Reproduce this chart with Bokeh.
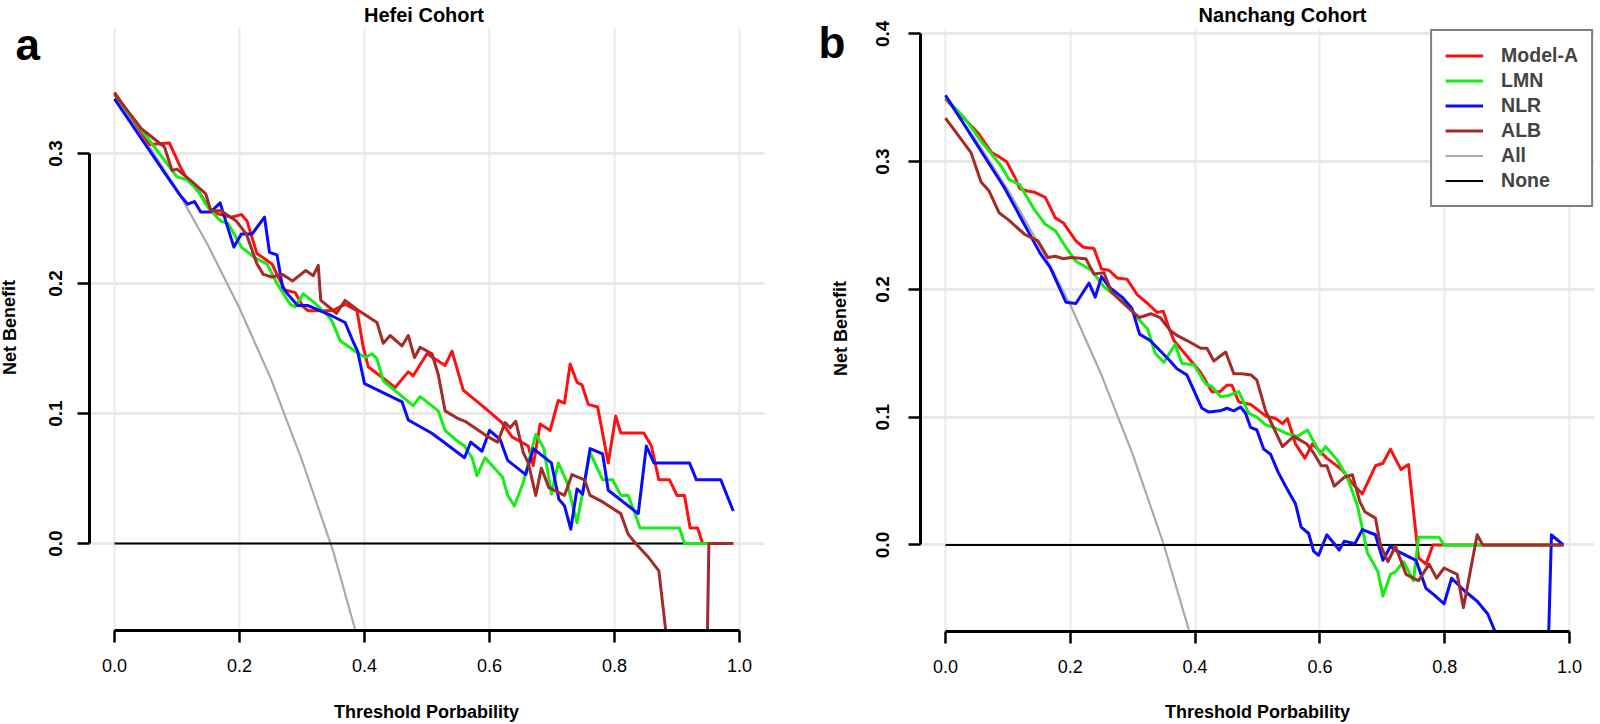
from bokeh.plotting import figure
from bokeh.models import (FixedTicker, PrintfTickFormatter, Label, Legend, LegendItem, Range1d, GridBox)
from bokeh.embed import file_html
from bokeh.resources import INLINE

FONT = "Liberation Sans"

# ---------------- data ----------------
x_ticks = [0.0, 0.2, 0.4, 0.6, 0.8, 1.0]
series_names = ["Model-A", "LMN", "NLR", "ALB", "All", "None"]

# Hefei cohort (threshold, net benefit)
hefei_model_a = [(0, .347), (.056, .307), (.088, .308), (.105, .29), (.113, .283), (.137, .269), (.15, .259),
                 (.162, .254), (.187, .251), (.203, .253), (.212, .248), (.228, .223), (.24, .219), (.252, .215),
                 (.265, .202), (.273, .195), (.289, .193), (.302, .182), (.31, .179), (.348, .179), (.369, .184),
                 (.388, .179), (.398, .151), (.406, .136), (.449, .12), (.47, .132), (.478, .129), (.5, .146),
                 (.529, .137), (.54, .148), (.558, .118), (.588, .106), (.62, .093), (.636, .082), (.662, .075),
                 (.67, .06), (.681, .092), (.697, .087), (.71, .11), (.72, .108), (.729, .138), (.74, .124),
                 (.748, .122), (.758, .107), (.773, .105), (.79, .062), (.802, .098), (.81, .085), (.847, .085),
                 (.859, .075), (.871, .049), (.888, .049), (.9, .037), (.912, .037), (.921, .012), (.933, .012),
                 (.941, 0), (.95, 0)]
hefei_lmn = [(0, .345), (.056, .31), (.1, .282), (.115, .28), (.133, .272), (.146, .261), (.158, .254), (.17, .248),
             (.182, .246), (.203, .228), (.224, .22), (.244, .215), (.26, .2), (.281, .184), (.289, .182), (.302, .192),
             (.318, .186), (.342, .175), (.348, .171), (.361, .156), (.388, .147), (.401, .143), (.412, .146),
             (.42, .142), (.43, .125), (.478, .106), (.489, .113), (.518, .102), (.529, .087), (.548, .079),
             (.56, .075), (.572, .066), (.58, .052), (.593, .066), (.621, .051), (.629, .037), (.64, .029),
             (.654, .047), (.674, .084), (.687, .073), (.699, .038), (.71, .062), (.724, .047), (.74, .016),
             (.761, .07), (.781, .049), (.797, .049), (.81, .037), (.822, .037), (.841, .012), (.904, .012),
             (.912, 0), (.95, 0)]
hefei_nlr = [(0, .342), (.089, .279), (.105, .268), (.117, .261), (.128, .263), (.138, .255), (.154, .255),
             (.169, .262), (.178, .248), (.191, .228), (.203, .238), (.22, .238), (.24, .251), (.248, .224),
             (.26, .222), (.269, .197), (.277, .192), (.293, .183), (.31, .183), (.348, .175), (.369, .17),
             (.382, .155), (.389, .148), (.4, .123), (.46, .109), (.47, .095), (.507, .085), (.524, .079),
             (.56, .066), (.57, .078), (.588, .071), (.6, .087), (.617, .08), (.629, .064), (.658, .053),
             (.67, .073), (.699, .062), (.711, .034), (.72, .029), (.73, .011), (.74, .042), (.749, .038),
             (.761, .073), (.781, .069), (.79, .041), (.838, .023), (.851, .075), (.863, .062), (.92, .062),
             (.931, .049), (.97, .049), (.99, .025)]
hefei_alb = [(0, .346), (.043, .319), (.08, .305), (.092, .287), (.1, .288), (.125, .278), (.146, .269),
             (.154, .256), (.17, .256), (.195, .248), (.211, .238), (.228, .215), (.238, .207), (.252, .205),
             (.269, .207), (.285, .202), (.306, .21), (.318, .206), (.326, .214), (.33, .187), (.348, .18),
             (.355, .177), (.369, .187), (.388, .18), (.42, .17), (.43, .154), (.441, .16), (.46, .152),
             (.47, .16), (.48, .143), (.489, .151), (.508, .146), (.518, .13), (.529, .102), (.55, .096),
             (.561, .094), (.598, .082), (.613, .078), (.625, .093), (.633, .089), (.642, .094), (.654, .07),
             (.662, .062), (.674, .037), (.683, .058), (.695, .043), (.72, .037), (.732, .053), (.752, .049),
             (.761, .037), (.781, .032), (.81, .023), (.822, .007), (.834, 0), (.855, -.011), (.871, -.021),
             (.882, -.067), (.888, -.15), (.946, -.15), (.951, 0), (.99, 0)]
hefei_all = [(0, .345), (.05, .31), (.1, .272), (.15, .229), (.2, .181), (.25, .127), (.3, .064), (.35, -.006),
             (.4, -.092)]
hefei_none = [(0, 0), (.99, 0)]

# Nanchang cohort
nanchang_model_a = [(0, .349), (.053, .322), (.074, .307), (.082, .305), (.098, .3), (.111, .288), (.119, .279),
                    (.131, .277), (.143, .276), (.16, .272), (.176, .256), (.189, .252), (.209, .238), (.221, .233),
                    (.238, .232), (.25, .216), (.262, .215), (.275, .209), (.291, .208), (.307, .196), (.324, .189),
                    (.339, .182), (.349, .183), (.358, .17), (.366, .16), (.409, .135), (.427, .12), (.44, .12),
                    (.451, .125), (.459, .125), (.47, .112), (.489, .11), (.513, .101), (.529, .099), (.54, .095),
                    (.548, .099), (.561, .079), (.576, .068), (.588, .079), (.611, .068), (.635, .059), (.656, .046),
                    (.668, .04), (.689, .062), (.701, .064), (.713, .075), (.73, .059), (.742, .063), (.758, -.01),
                    (.77, -.015), (.781, 0), (.99, 0)]
nanchang_lmn = [(0, .35), (.029, .335), (.057, .316), (.074, .306), (.09, .296), (.102, .286), (.119, .282),
                (.143, .262), (.16, .251), (.176, .246), (.193, .233), (.209, .222), (.234, .215), (.254, .202),
                (.27, .196), (.291, .188), (.307, .178), (.324, .169), (.336, .15), (.35, .143), (.368, .157),
                (.379, .142), (.398, .141), (.417, .126), (.427, .124), (.441, .116), (.454, .117), (.47, .12),
                (.486, .103), (.499, .1), (.513, .094), (.526, .092), (.548, .087), (.564, .085), (.58, .09),
                (.601, .071), (.609, .077), (.627, .067), (.643, .054), (.66, .031), (.668, .013), (.676, -.006),
                (.693, -.021), (.701, -.04), (.713, -.023), (.721, -.021), (.734, -.013), (.75, -.028),
                (.758, .006), (.791, .006), (.799, 0), (.99, 0)]
nanchang_nlr = [(0, .352), (.094, .28), (.152, .228), (.168, .217), (.193, .19), (.209, .189), (.23, .205),
                (.24, .194), (.25, .21), (.262, .202), (.283, .194), (.299, .185), (.311, .165), (.328, .16),
                (.344, .152), (.36, .144), (.371, .138), (.387, .133), (.398, .121), (.411, .107), (.422, .104),
                (.44, .105), (.451, .107), (.462, .105), (.473, .108), (.481, .103), (.489, .092), (.499, .09),
                (.51, .075), (.521, .071), (.533, .057), (.545, .046), (.561, .032), (.57, .014), (.582, .009),
                (.59, -.005), (.598, -.008), (.611, .008), (.623, .001), (.631, -.004), (.639, .003), (.656, .001),
                (.668, .012), (.689, .008), (.701, -.012), (.713, -.001), (.721, -.004), (.754, -.012),
                (.77, -.034), (.783, -.039), (.799, -.046), (.811, -.026), (.832, -.036), (.852, -.044),
                (.869, -.054), (.88, -.067), (.89, -.15), (.962, -.15), (.971, .008), (.99, 0)]
nanchang_alb = [(0, .334), (.041, .307), (.057, .284), (.07, .277), (.086, .26), (.102, .254), (.127, .243),
                (.148, .238), (.164, .225), (.176, .226), (.189, .224), (.201, .225), (.225, .224), (.238, .212),
                (.254, .213), (.266, .198), (.283, .19), (.299, .183), (.311, .178), (.329, .181), (.344, .178),
                (.36, .168), (.371, .164), (.387, .16), (.409, .154), (.419, .154), (.43, .144), (.449, .151),
                (.462, .134), (.475, .134), (.49, .133), (.499, .129), (.513, .105), (.54, .077), (.558, .085),
                (.579, .079), (.59, .072), (.602, .062), (.611, .062), (.623, .046), (.639, .053), (.652, .055),
                (.664, .034), (.672, .026), (.689, .021), (.697, 0), (.709, -.013), (.721, -.001), (.738, -.023),
                (.758, -.028), (.775, -.015), (.787, -.026), (.799, -.018), (.82, -.023), (.83, -.049),
                (.852, .008), (.861, 0), (.99, 0)]
nanchang_all = [(0, .35), (.05, .316), (.1, .278), (.15, .235), (.2, .188), (.25, .133), (.3, .071), (.35, 0),
                (.4, -.083)]
nanchang_none = [(0, 0), (.99, 0)]

COLORS = {"Model-A": "#ff1010", "LMN": "#14ee14", "NLR": "#0a0aff", "ALB": "#a52a2a", "All": "#aaaaaa",
          "None": "#000000"}
WIDTHS = {"Model-A": 3, "LMN": 3, "NLR": 3, "ALB": 3, "All": 2.2, "None": 2}

W, H = 800, 724


def make_panel(series, yticks, y_range, bl, br, bt, bb, ystandoff):
    p = figure(width=W, height=H, output_backend="svg", toolbar_location=None,
               x_range=Range1d(-0.04, 1.04), y_range=Range1d(*y_range),
               min_border_left=bl, min_border_right=br, min_border_top=bt, min_border_bottom=bb)
    p.frame_align = False
    p.outline_line_color = None
    p.background_fill_color = "white"
    p.border_fill_color = "white"

    p.xgrid.ticker = FixedTicker(ticks=x_ticks)
    p.ygrid.ticker = FixedTicker(ticks=yticks)
    p.xgrid.grid_line_color = "#e9e9e9"
    p.xgrid.grid_line_width = 2
    p.ygrid.grid_line_color = "#e9e9e9"
    p.ygrid.grid_line_width = 3

    xa = p.xaxis[0]
    xa.ticker = FixedTicker(ticks=x_ticks)
    xa.formatter = PrintfTickFormatter(format="%.1f")
    xa.bounds = (0, 1)
    ya = p.yaxis[0]
    ya.ticker = FixedTicker(ticks=yticks)
    ya.formatter = PrintfTickFormatter(format="%.1f")
    ya.bounds = (yticks[0], yticks[-1])
    ya.major_label_orientation = "vertical"
    for ax in (xa, ya):
        ax.axis_line_width = 3
        ax.axis_line_color = "black"
        ax.major_tick_line_width = 2.5
        ax.major_tick_line_color = "black"
        ax.major_tick_out = 12
        ax.major_tick_in = 0
        ax.minor_tick_line_color = None
        ax.major_label_text_font = FONT
        ax.major_label_text_color = "black"
    xa.major_label_text_font_size = "18px"
    xa.major_label_standoff = 16
    ya.major_label_text_font_size = "19px"
    ya.major_label_text_font_style = "bold"
    ya.major_label_standoff = ystandoff

    rends = {}
    for name in ["All", "None", "Model-A", "LMN", "NLR", "ALB"]:
        pts = series[name]
        rends[name] = p.line([a for a, b in pts], [b for a, b in pts], line_color=COLORS[name],
                             line_width=WIDTHS[name], line_join="round")
    return p, rends


def make_overlay(texts):
    # transparent text layer laid over a panel, in pixel coordinates (y downwards)
    o = figure(width=W, height=H, output_backend="svg", toolbar_location=None,
               x_range=Range1d(0, W), y_range=Range1d(H, 0), x_axis_type=None, y_axis_type=None,
               min_border=0)
    o.frame_align = False
    o.outline_line_color = None
    o.background_fill_color = None
    o.border_fill_color = None
    o.grid.visible = False
    for (x, y, text, size, angle, align) in texts:
        o.add_layout(Label(x=x, y=y, text=text, text_font=FONT, text_font_size=size, text_font_style="bold",
                           angle=angle, text_align=align, text_baseline="middle", text_color="black"))
    return o


hefei = {"Model-A": hefei_model_a, "LMN": hefei_lmn, "NLR": hefei_nlr, "ALB": hefei_alb,
         "All": hefei_all, "None": hefei_none}
nanchang = {"Model-A": nanchang_model_a, "LMN": nanchang_lmn, "NLR": nanchang_nlr, "ALB": nanchang_alb,
            "All": nanchang_all, "None": nanchang_none}

p1, r1 = make_panel(hefei, [0.0, 0.1, 0.2, 0.3], (-0.0669, 0.3969), 89, 36, 27, 94, 15)
p2, r2 = make_panel(nanchang, [0.0, 0.1, 0.2, 0.3, 0.4], (-0.0677, 0.4042), 120, 6, 28, 93, 19)

legend = Legend(items=[LegendItem(label=n, renderers=[r2[n]]) for n in series_names],
                location="top_right", margin=1, padding=13, spacing=2,
                label_height=21, glyph_height=21, glyph_width=38, label_standoff=18,
                label_text_font=FONT, label_text_font_size="19.5px", label_text_font_style="bold",
                border_line_color="black", border_line_width=2, background_fill_color="white",
                background_fill_alpha=1.0)
p2.add_layout(legend)

o1 = make_overlay([
    (15, 44, "a", "44px", 0, "left"),
    (423.5, 14, "Hefei Cohort", "20px", 0, "center"),
    (9, 327, "Net Benefit", "18px", 1.5708, "center"),
    (426, 711, "Threshold Porbability", "18px", 0, "center"),
])
o2 = make_overlay([
    (18, 42, "b", "44px", 0, "left"),
    (482, 14, "Nanchang Cohort", "20px", 0, "center"),
    (40, 328, "Net Benefit", "18px", 1.5708, "center"),
    (457, 711, "Threshold Porbability", "18px", 0, "center"),
])

layout = GridBox(children=[(p1, 0, 0), (o1, 0, 0), (p2, 0, 1), (o2, 0, 1)], spacing=0)
open("out.html", "w").write(file_html(layout, INLINE))
